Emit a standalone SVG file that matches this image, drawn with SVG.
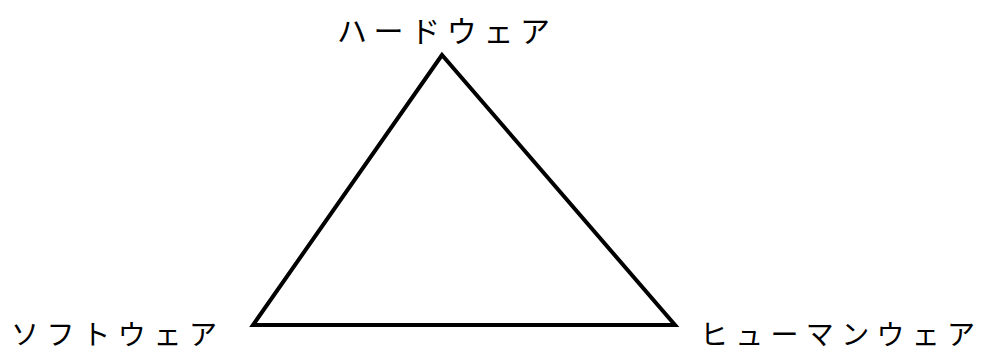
<svg xmlns="http://www.w3.org/2000/svg" width="983" height="354" viewBox="0 0 983 354">
<style>
.lbl{font-family:"Noto Sans CJK JP","Noto Sans",sans-serif;font-size:30px;fill:#000;}
.low{font-size:28px;}
.edge{fill:none;stroke:#000;stroke-width:4;stroke-linejoin:miter;}
</style>
<rect width="983" height="354" fill="#fff"/>
<g id="connectors">
<polygon class="edge" points="442,55 253,325 675,325"/>
</g>
<g id="hardware"><text class="lbl" x="337" y="42" textLength="213" lengthAdjust="spacing">ハードウェア</text></g>
<g id="software"><text class="lbl low" x="11" y="345" textLength="206" lengthAdjust="spacing">ソフトウェア</text></g>
<g id="humanware"><text class="lbl low" x="700" y="345" textLength="275" lengthAdjust="spacing">ヒューマンウェア</text></g>
</svg>
